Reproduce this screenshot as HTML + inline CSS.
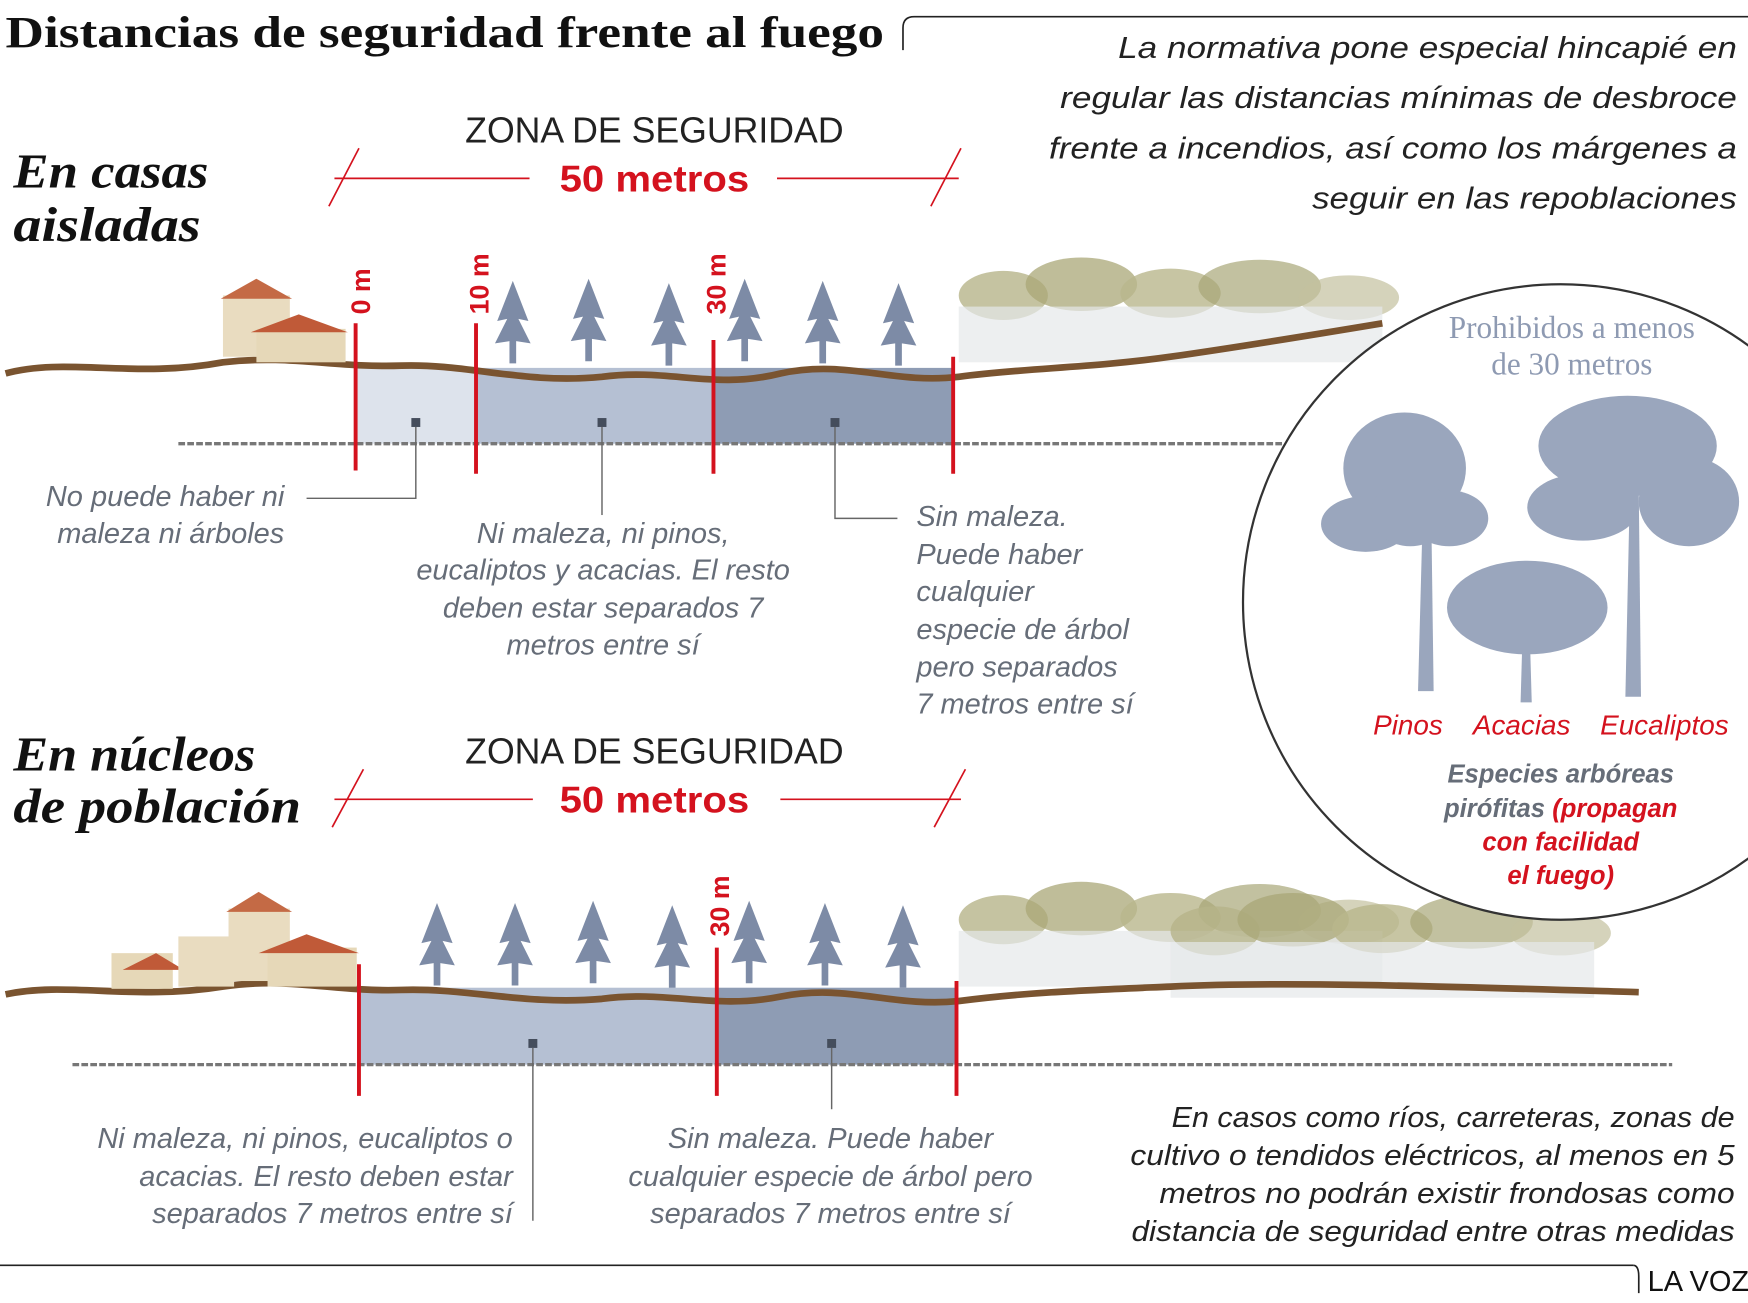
<!DOCTYPE html>
<html><head><meta charset="utf-8">
<style>
html,body{margin:0;padding:0;background:#fff;overflow:hidden;width:1748px;height:1298px}
#w{position:absolute;left:0;top:0;width:1568px;height:1164px;transform:scale(1.1148);transform-origin:0 0}
svg text{font-family:"Liberation Sans",sans-serif}
.ser{font-family:"Liberation Serif",serif !important}
</style></head><body><div id="w">
<svg width="1568" height="1164" viewBox="0 0 1568 1164" xmlns="http://www.w3.org/2000/svg">
<defs>
<g id="tree"><path d="M0,-48 L-14,-12 L-5,-14 L-16,8 L-3,6 L-3,26 L3,26 L3,6 L16,8 L5,-14 L14,-12 Z" fill="#7d8ba6"/></g>
<g id="forest">
<ellipse cx="40" cy="40" rx="40" ry="22" fill="#b7b48a" opacity=".8"/>
<ellipse cx="110" cy="30" rx="50" ry="24" fill="#a9a777" opacity=".75"/>
<ellipse cx="190" cy="38" rx="45" ry="22" fill="#b9b68c" opacity=".8"/>
<ellipse cx="270" cy="32" rx="55" ry="24" fill="#a8a678" opacity=".7"/>
<ellipse cx="350" cy="42" rx="45" ry="20" fill="#c3c19e" opacity=".7"/>
<rect x="0" y="50" width="380" height="50" fill="#e6e8ea" opacity=".7"/>
</g>
</defs>

<text x="5" y="42" font-size="40" font-weight="bold" fill="#111" class="ser" textLength="788" lengthAdjust="spacingAndGlyphs">Distancias de seguridad frente al fuego</text>
<path d="M810,45 L810,25 Q810,15 820,15 L1568,15" fill="none" stroke="#222" stroke-width="1.5"/>
<g font-size="27" font-style="italic" fill="#222" text-anchor="end">
<text x="1558" y="52" textLength="555" lengthAdjust="spacingAndGlyphs">La normativa pone especial hincapié en</text>
<text x="1558" y="97" textLength="607" lengthAdjust="spacingAndGlyphs">regular las distancias mínimas de desbroce</text>
<text x="1558" y="142" textLength="617" lengthAdjust="spacingAndGlyphs">frente a incendios, así como los márgenes a</text>
<text x="1558" y="187" textLength="381" lengthAdjust="spacingAndGlyphs">seguir en las repoblaciones</text>
</g>

<g font-style="italic" font-weight="bold" font-size="44" fill="#111">
<text x="12" y="168" class="ser" textLength="175" lengthAdjust="spacingAndGlyphs">En casas</text>
<text x="12" y="216" class="ser" textLength="168" lengthAdjust="spacingAndGlyphs">aisladas</text>
<text x="12" y="691" class="ser" textLength="217" lengthAdjust="spacingAndGlyphs">En núcleos</text>
<text x="12" y="738" class="ser" textLength="258" lengthAdjust="spacingAndGlyphs">de población</text>
</g>

<text x="587" y="128" font-size="32" fill="#222" text-anchor="middle">ZONA DE SEGURIDAD</text>
<text x="587" y="172" font-size="33" font-weight="bold" fill="#d4121e" text-anchor="middle" textLength="170" lengthAdjust="spacingAndGlyphs">50 metros</text>
<g stroke="#d4121e" stroke-width="1.5" fill="none">
<line x1="300" y1="160" x2="475" y2="160"/><line x1="697" y1="160" x2="860" y2="160"/>
<line x1="295" y1="185" x2="322" y2="133"/><line x1="835" y1="185" x2="862" y2="133"/>
<line x1="300" y1="717" x2="478" y2="717"/><line x1="700" y1="717" x2="862" y2="717"/>
<line x1="298" y1="742" x2="326" y2="690"/><line x1="838" y1="742" x2="866" y2="690"/>
</g>
<text x="587" y="685" font-size="32" fill="#222" text-anchor="middle">ZONA DE SEGURIDAD</text>
<text x="587" y="729" font-size="33" font-weight="bold" fill="#d4121e" text-anchor="middle" textLength="170" lengthAdjust="spacingAndGlyphs">50 metros</text>

<use href="#forest" x="860" y="225"/>
<use href="#forest" x="860" y="785"/>
<use href="#forest" x="1050" y="795"/>

<rect x="318" y="330" width="109" height="68" fill="#dde3ec"/>
<rect x="427" y="330" width="213" height="68" fill="#b5c0d3"/>
<rect x="640" y="330" width="215" height="68" fill="#8e9cb4"/>
<line x1="160" y1="398" x2="1150" y2="398" stroke="#777" stroke-width="3" stroke-dasharray="6 2"/>
<path d="M5,335 C60,320 120,340 200,325 C260,318 300,330 360,328 C420,326 470,345 540,338 C600,330 640,350 700,335 C760,322 800,345 860,338 C920,330 980,330 1050,320 C1120,310 1180,300 1240,290" fill="none" stroke="#7a5430" stroke-width="6"/>
<rect x="200" y="265" width="60" height="55" fill="#e9dcc0"/>
<path d="M198,268 L230,250 L262,268 Z" fill="#c46a45"/>
<rect x="230" y="295" width="80" height="30" fill="#e6d8b8"/>
<path d="M225,298 L268,282 L312,298 Z" fill="#c05a38"/>
<use href="#tree" x="460" y="300"/><use href="#tree" x="528" y="298"/><use href="#tree" x="600" y="302"/>
<use href="#tree" x="668" y="298"/><use href="#tree" x="738" y="300"/><use href="#tree" x="806" y="302"/>
<g stroke="#d4121e" stroke-width="3.5">
<line x1="319" y1="290" x2="319" y2="422"/><line x1="427" y1="290" x2="427" y2="425"/>
<line x1="640" y1="305" x2="640" y2="425"/><line x1="855" y1="320" x2="855" y2="425"/>
</g>
<g font-size="24" font-weight="bold" fill="#d4121e">
<text transform="translate(332,282) rotate(-90)">0 m</text>
<text transform="translate(438,282) rotate(-90)">10 m</text>
<text transform="translate(651,282) rotate(-90)">30 m</text>
</g>
<g fill="#444d5c"><rect x="369" y="375" width="8" height="8"/><rect x="536" y="375" width="8" height="8"/><rect x="745" y="375" width="8" height="8"/></g>
<g stroke="#666" stroke-width="1.3" fill="none">
<path d="M373,383 L373,447 L275,447"/><path d="M540,383 L540,462"/><path d="M749,383 L749,465 L805,465"/>
</g>
<g font-style="italic" font-size="26" fill="#666d78">
<text x="255" y="454" text-anchor="end">No puede haber ni</text>
<text x="255" y="487" text-anchor="end">maleza ni árboles</text>
<g text-anchor="middle">
<text x="541" y="487">Ni maleza, ni pinos,</text>
<text x="541" y="520">eucaliptos y acacias. El resto</text>
<text x="541" y="554">deben estar separados 7</text>
<text x="541" y="587">metros entre sí</text>
</g>
<text x="822" y="472">Sin maleza.</text>
<text x="822" y="506">Puede haber</text>
<text x="822" y="539">cualquier</text>
<text x="822" y="573">especie de árbol</text>
<text x="822" y="607">pero separados</text>
<text x="822" y="640">7 metros entre sí</text>
</g>

<rect x="322" y="886" width="321" height="69" fill="#b5c0d3"/>
<rect x="643" y="886" width="215" height="69" fill="#8e9cb4"/>
<line x1="65" y1="955" x2="1500" y2="955" stroke="#777" stroke-width="3" stroke-dasharray="6 2"/>
<path d="M5,892 C60,880 120,898 200,885 C260,876 300,890 360,888 C420,886 470,902 540,896 C600,888 640,906 700,894 C760,882 800,904 860,898 C920,890 980,888 1050,885 C1150,880 1300,885 1470,890" fill="none" stroke="#7a5430" stroke-width="6"/>
<rect x="100" y="855" width="55" height="32" fill="#e6d8b8"/>
<path d="M110,870 L140,855 L165,870 Z" fill="#c05a38"/>
<rect x="160" y="840" width="50" height="45" fill="#e9dcc0"/>
<rect x="205" y="815" width="55" height="65" fill="#e9dcc0"/>
<path d="M203,818 L232,800 L262,818 Z" fill="#c46a45"/>
<rect x="240" y="850" width="80" height="35" fill="#e6d8b8"/>
<path d="M232,855 L275,838 L322,855 Z" fill="#c05a38"/>
<use href="#tree" x="392" y="858"/><use href="#tree" x="462" y="858"/><use href="#tree" x="532" y="856"/>
<use href="#tree" x="603" y="860"/><use href="#tree" x="672" y="856"/><use href="#tree" x="740" y="858"/><use href="#tree" x="810" y="860"/>
<g stroke="#d4121e" stroke-width="3.5">
<line x1="322" y1="865" x2="322" y2="983"/><line x1="643" y1="850" x2="643" y2="983"/><line x1="858" y1="880" x2="858" y2="983"/>
</g>
<text transform="translate(654,840) rotate(-90)" font-size="24" font-weight="bold" fill="#d4121e">30 m</text>
<g fill="#444d5c"><rect x="474" y="932" width="8" height="8"/><rect x="742" y="932" width="8" height="8"/></g>
<g stroke="#666" stroke-width="1.3"><line x1="478" y1="940" x2="478" y2="1095"/><line x1="746" y1="940" x2="746" y2="995"/></g>
<g font-style="italic" font-size="26" fill="#666d78">
<text x="460" y="1030" text-anchor="end">Ni maleza, ni pinos, eucaliptos o</text>
<text x="460" y="1064" text-anchor="end">acacias. El resto deben estar</text>
<text x="460" y="1097" text-anchor="end">separados 7 metros entre sí</text>
<g text-anchor="middle">
<text x="745" y="1030">Sin maleza. Puede haber</text>
<text x="745" y="1064">cualquier especie de árbol pero</text>
<text x="745" y="1097">separados 7 metros entre sí</text>
</g>
</g>
<g font-style="italic" font-size="26" fill="#222" text-anchor="end">
<text x="1556" y="1011" textLength="505" lengthAdjust="spacingAndGlyphs">En casos como ríos, carreteras, zonas de</text>
<text x="1556" y="1045" textLength="542" lengthAdjust="spacingAndGlyphs">cultivo o tendidos eléctricos, al menos en 5</text>
<text x="1556" y="1079" textLength="516" lengthAdjust="spacingAndGlyphs">metros no podrán existir frondosas como</text>
<text x="1556" y="1113" textLength="541" lengthAdjust="spacingAndGlyphs">distancia de seguridad entre otras medidas</text>
</g>

<circle cx="1400" cy="540" r="285" fill="#fff" stroke="#333" stroke-width="2"/>
<g font-size="28" fill="#8e9ab2" text-anchor="middle">
<text x="1410" y="303" class="ser">Prohibidos a menos</text>
<text x="1410" y="336" class="ser">de 30 metros</text>
</g>
<g fill="#9aa6bd">
<path d="M1272,620 L1276,470 L1284,470 L1286,620 Z"/>
<ellipse cx="1260" cy="420" rx="55" ry="50"/><ellipse cx="1225" cy="470" rx="40" ry="25"/><ellipse cx="1300" cy="465" rx="35" ry="25"/><ellipse cx="1265" cy="460" rx="35" ry="30"/>
<path d="M1458,625 L1462,440 L1470,440 L1472,625 Z"/>
<ellipse cx="1460" cy="400" rx="80" ry="45"/><ellipse cx="1420" cy="455" rx="50" ry="30"/><ellipse cx="1515" cy="450" rx="45" ry="40"/>
<path d="M1364,630 L1366,560 L1372,560 L1374,630 Z"/>
<ellipse cx="1370" cy="545" rx="72" ry="42"/>
</g>
<g font-style="italic" font-size="25" fill="#d4121e" text-anchor="middle">
<text x="1263" y="659">Pinos</text><text x="1365" y="659">Acacias</text><text x="1493" y="659">Eucaliptos</text>
</g>
<g font-style="italic" font-weight="bold" font-size="23" text-anchor="middle">
<text x="1400" y="702" fill="#666d78">Especies arbóreas</text>
<text x="1400" y="733"><tspan fill="#666d78">pirófitas </tspan><tspan fill="#d4121e">(propagan</tspan></text>
<text x="1400" y="763" fill="#d4121e">con facilidad</text>
<text x="1400" y="793" fill="#d4121e">el fuego)</text>
</g>

<line x1="0" y1="1135" x2="1465" y2="1135" stroke="#222" stroke-width="1.5"/>
<path d="M1465,1135 Q1470,1135 1470,1145 L1470,1160" fill="none" stroke="#222" stroke-width="1.5"/>
<text x="1478" y="1158" font-size="26" fill="#111">LA VOZ</text>
</svg>
</div></body></html>
